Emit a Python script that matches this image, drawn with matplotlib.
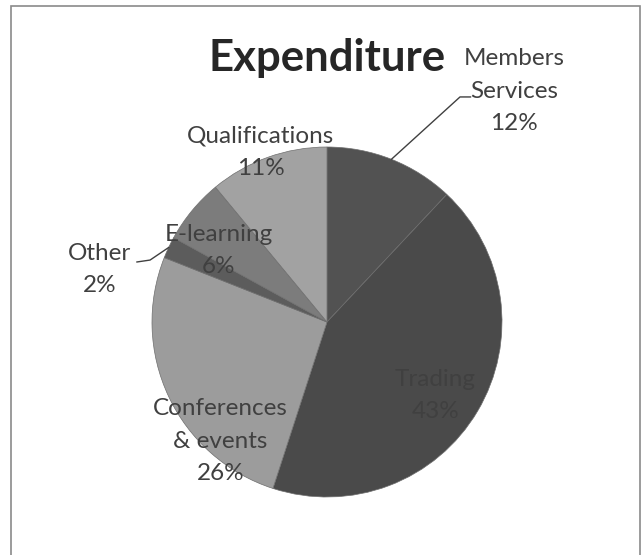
import numpy as np
import matplotlib.pyplot as plt
from matplotlib.patches import Rectangle

# data (clockwise from 12 o'clock)
categories = ['Members\nServices', 'Trading', 'Conferences\n& events', 'Other', 'E-learning', 'Qualifications']
values = [12, 43, 26, 2, 6, 11]
colors = ['#525252', '#4a4a4a', '#9c9c9c', '#5c5c5c', '#7c7c7c', '#a2a2a2']

# label centres in pie-radius units, and which labels get a leader line
label_pos = [(1.07, 1.32), (0.62, -0.42), (-0.61, -0.68), (-1.30, 0.30), (-0.62, 0.41), (-0.38, 0.97)]
leader_start = {0: [(0.82, 1.286), (0.76, 1.286)], 3: [(-1.086, 0.343), (-1.011, 0.354)]}

plt.rcParams['font.family'] = ['Lato', 'DejaVu Sans']

W, H, R = 642, 555, 175.0
cx, cy = 327, 322
fig = plt.figure(figsize=(W / 100, H / 100), dpi=100)
ax = fig.add_axes([0, 0, 1, 1])

wedges, _ = ax.pie(values, colors=colors, startangle=90, counterclock=False,
                   wedgeprops=dict(edgecolor='#6e6e6e', linewidth=0.5))
ax.set_aspect('auto')
ax.set_xlim(-cx / R, (W - cx) / R)
ax.set_ylim(-(H - cy) / R, cy / R)
ax.axis('off')

total = sum(values)
for i, (cat, v) in enumerate(zip(categories, values)):
    pct = f'{round(100 * v / total)}%'
    x, y = label_pos[i]
    ax.text(x, y, cat + '\n' + pct, ha='center', va='center', fontsize=17.5,
            color='#404040', linespacing=1.65)
    if i in leader_start:
        w = wedges[i]
        mid = np.deg2rad((w.theta1 + w.theta2) / 2)
        pts = leader_start[i] + [(np.cos(mid), np.sin(mid))]
        xs, ys = zip(*pts)
        ax.plot(xs, ys, color='#404040', lw=1.0)

fig.text(cx / W, 1 - 58 / H, 'Expenditure', ha='center', va='center',
         fontsize=31.5, fontweight='bold', color='#262626')

# chart border
fig.add_artist(Rectangle((11 / W, -0.05), (640 - 11) / W, 1.05 - 6 / H,
                         transform=fig.transFigure, fill=False,
                         edgecolor='#8a8a8a', linewidth=1.2))

fig.savefig('out.png', dpi=100)
